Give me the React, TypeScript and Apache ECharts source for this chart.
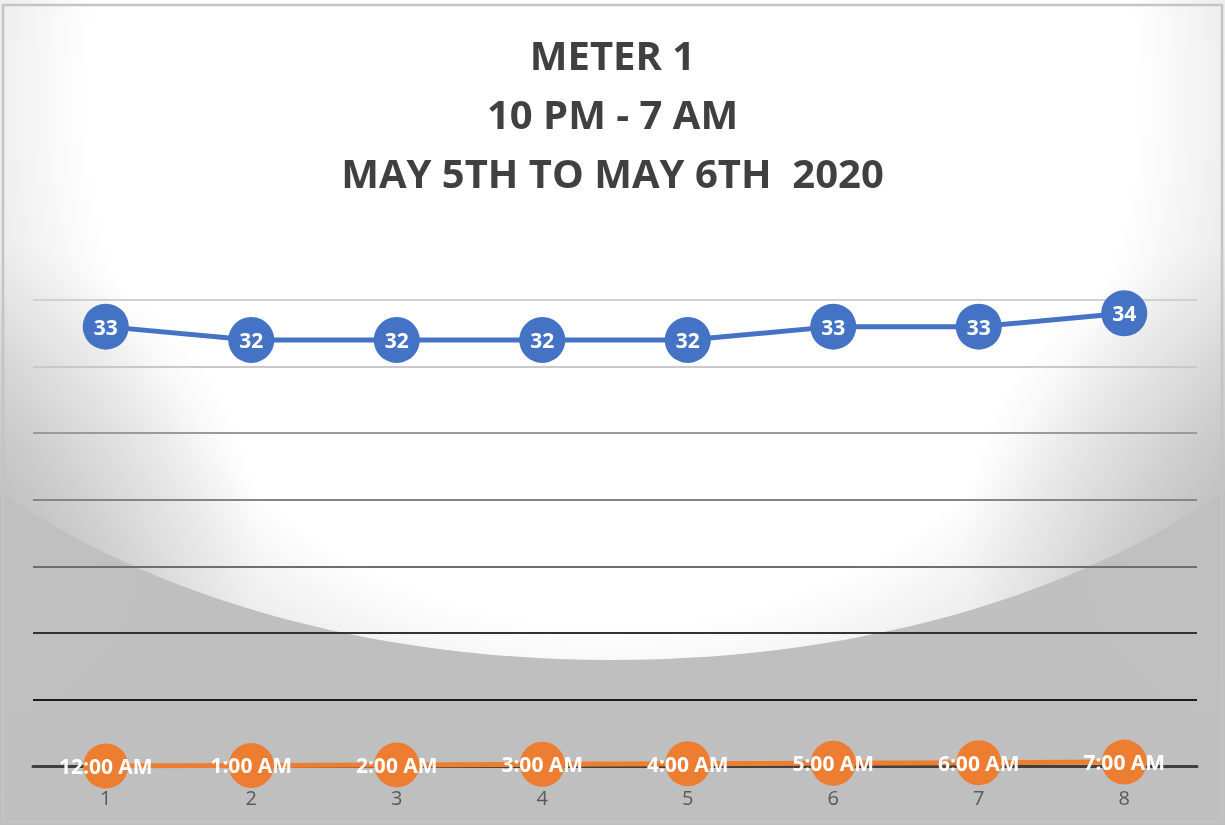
import React, { useEffect, useRef } from "react";
import * as echarts from "echarts";

const categories = ["1", "2", "3", "4", "5", "6", "7", "8"];
const meterValues = [33, 32, 32, 32, 32, 33, 33, 34];
const timeValues = [0, 0.0417, 0.0833, 0.125, 0.1667, 0.2083, 0.25, 0.2917];
const timeLabels = ["12:00 AM", "1:00 AM", "2:00 AM", "3:00 AM", "4:00 AM", "5:00 AM", "6:00 AM", "7:00 AM"];
const titleLines = ["METER 1", "10 PM - 7 AM", "MAY 5TH TO MAY 6TH  2020"];
const yMin = 0;
const yMax = 35;
const yInterval = 5;

const gridColors = ["#404040", "#1c1c1c", "#333333", "#6e6e6e", "#858585", "#9a9a9a", "#c8c8c8", "#d0d0d0"];

const sideShade = (cx: number) => ({
  type: "circle",
  z: -98,
  silent: true,
  shape: { cx, cy: 540, r: 300 },
  style: {
    fill: new echarts.graphic.RadialGradient(
      cx,
      540,
      300,
      [
        { offset: 0, color: "rgba(192,192,192,0.85)" },
        { offset: 0.5, color: "rgba(192,192,192,0.45)" },
        { offset: 1, color: "rgba(192,192,192,0)" },
      ],
      true
    ),
  },
});

export default function App() {
  const ref = useRef<HTMLDivElement>(null);

  useEffect(() => {
    if (!ref.current) return;
    const chart = echarts.init(ref.current, null, { renderer: "svg" });
    const font = "'Open Sans', 'Noto Sans', sans-serif";
    chart.setOption({
      animation: false,
      backgroundColor: "transparent",
      graphic: [
        {
          type: "rect",
          z: -100,
          silent: true,
          shape: { x: 0, y: 0, width: 1225, height: 825 },
          style: { fill: "#bfbfbf" },
        },
        {
          type: "ellipse",
          z: -99,
          silent: true,
          shape: { cx: 612, cy: 200, rx: 790, ry: 460 },
          style: {
            fill: new echarts.graphic.RadialGradient(
              612,
              100,
              730,
              [
                { offset: 0, color: "#ffffff" },
                { offset: 0.72, color: "#ffffff" },
                { offset: 0.87, color: "#ebebeb" },
                { offset: 0.93, color: "#dcdcdc" },
                { offset: 1, color: "#c8c8c8" },
              ],
              true
            ),
          },
        },
        sideShade(-40),
        sideShade(1265),
        {
          type: "rect",
          z: 100,
          silent: true,
          shape: { x: 3, y: 5, width: 1219, height: 817 },
          style: { fill: "none", stroke: "#c4c4c4", lineWidth: 2.5 },
        },
      ],
      title: {
        text: titleLines.join("\n"),
        left: "center",
        top: 25,
        padding: 0,
        textStyle: {
          fontFamily: font,
          fontSize: 40,
          fontWeight: "bold",
          color: "#404040",
          lineHeight: 59,
        },
      },
      grid: { left: 33, right: 28, top: 300, bottom: 59, containLabel: false },
      xAxis: {
        type: "category",
        data: categories,
        boundaryGap: true,
        axisLine: { show: true, lineStyle: { color: "#404040", width: 3 } },
        axisTick: { show: false },
        axisLabel: { color: "#595959", fontSize: 20, fontFamily: font, margin: 21 },
        splitLine: { show: false },
      },
      yAxis: {
        type: "value",
        min: yMin,
        max: yMax,
        interval: yInterval,
        axisLabel: { show: false },
        axisLine: { show: false },
        axisTick: { show: false },
        splitLine: { show: true, lineStyle: { color: gridColors, width: 2 } },
      },
      series: [
        {
          name: "Time",
          type: "line",
          data: timeValues,
          symbol: "circle",
          symbolSize: 45,
          lineStyle: { color: "#ed7d31", width: 5 },
          itemStyle: { color: "#ed7d31" },
          label: {
            show: true,
            position: "inside",
            formatter: (p: any) => timeLabels[p.dataIndex],
            color: "#ffffff",
            fontWeight: "bold",
            fontSize: 21,
            fontFamily: font,
          },
          z: 3,
        },
        {
          name: "Meter",
          type: "line",
          data: meterValues,
          symbol: "circle",
          symbolSize: 46,
          lineStyle: { color: "#4472c4", width: 5 },
          itemStyle: { color: "#4472c4" },
          label: {
            show: true,
            position: "inside",
            formatter: "{c}",
            color: "#ffffff",
            fontWeight: "bold",
            fontSize: 21,
            fontFamily: font,
          },
          z: 4,
        },
      ],
    });
    return () => chart.dispose();
  }, []);

  return (
    <div
      ref={ref}
      style={{ position: "fixed", left: 0, top: 0, width: 1225, height: 825 }}
    />
  );
}
